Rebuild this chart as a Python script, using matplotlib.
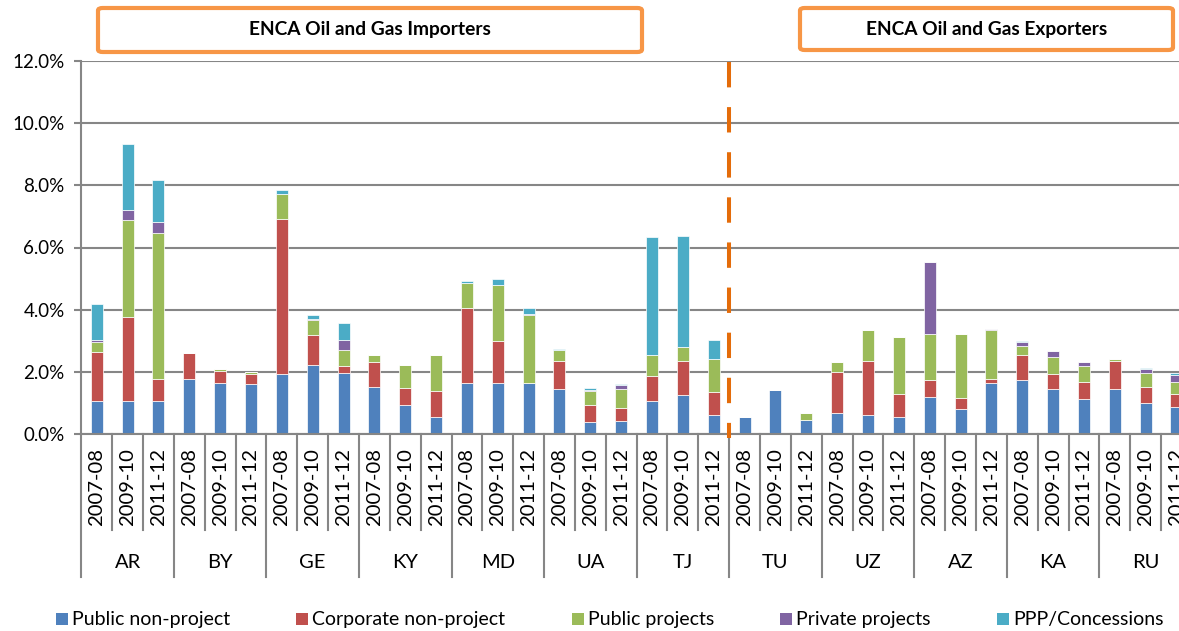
import numpy as np
import matplotlib.pyplot as plt
import matplotlib.transforms as mtransforms
from matplotlib.patches import FancyBboxPatch, Rectangle

plt.rcParams['font.family'] = ['Lato', 'DejaVu Sans']

countries = ['AR', 'BY', 'GE', 'KY', 'MD', 'UA', 'TJ', 'TU', 'UZ', 'AZ', 'KA', 'RU']
periods = ['2007-08', '2009-10', '2011-12']

# % of GDP (3 periods per country)
public_nonproject = [1.07, 1.07, 1.07, 1.77, 1.64, 1.61, 1.95, 2.22, 1.97, 1.52, 0.95, 0.56,
                     1.64, 1.64, 1.64, 1.46, 0.39, 0.42, 1.07, 1.25, 0.62, 0.55, 1.43, 0.46,
                     0.68, 0.61, 0.55, 1.19, 0.81, 1.65, 1.73, 1.47, 1.14, 1.46, 1.02, 0.87]
corporate_nonproject = [1.56, 2.71, 0.72, 0.85, 0.40, 0.33, 4.96, 0.98, 0.21, 0.80, 0.53, 0.84,
                        2.43, 1.37, 0.00, 0.89, 0.56, 0.44, 0.79, 1.11, 0.73, 0.00, 0.00, 0.00,
                        1.32, 1.76, 0.76, 0.56, 0.37, 0.14, 0.81, 0.46, 0.53, 0.89, 0.49, 0.41]
public_projects = [0.34, 3.09, 4.66, 0.00, 0.06, 0.07, 0.81, 0.48, 0.53, 0.23, 0.76, 1.14,
                   0.79, 1.77, 2.20, 0.35, 0.45, 0.61, 0.70, 0.46, 1.06, 0.00, 0.00, 0.22,
                   0.32, 0.98, 1.80, 1.47, 2.05, 1.55, 0.30, 0.55, 0.52, 0.06, 0.45, 0.39]
private_projects = [0.05, 0.32, 0.37, 0.00, 0.00, 0.00, 0.00, 0.02, 0.32, 0.00, 0.00, 0.00,
                    0.00, 0.00, 0.04, 0.00, 0.03, 0.11, 0.00, 0.00, 0.00, 0.00, 0.00, 0.00,
                    0.00, 0.00, 0.00, 2.33, 0.00, 0.05, 0.12, 0.19, 0.13, 0.00, 0.13, 0.23]
ppp_concessions = [1.17, 2.15, 1.36, 0.00, 0.00, 0.00, 0.14, 0.12, 0.55, 0.00, 0.00, 0.00,
                   0.08, 0.21, 0.17, 0.05, 0.05, 0.04, 3.77, 3.56, 0.63, 0.00, 0.00, 0.00,
                   0.00, 0.00, 0.00, 0.00, 0.00, 0.00, 0.05, 0.00, 0.00, 0.00, 0.03, 0.08]

series = [('Public non-project', public_nonproject, '#4F81BD'),
          ('Corporate non-project', corporate_nonproject, '#C0504D'),
          ('Public projects', public_projects, '#9BBB59'),
          ('Private projects', private_projects, '#8064A2'),
          ('PPP/Concessions', ppp_concessions, '#4BACC6')]

W, H = 1179, 631
fig = plt.figure(figsize=(W / 100, H / 100), dpi=100)

# plot area in pixels (the axis runs a bit past the right edge of the image)
x0, x1 = 81.3, 1191.9
y0, y1 = 434.3, 60.7
ax = fig.add_axes([x0 / W, (H - y0) / H, (x1 - x0) / W, (y0 - y1) / H])

x = np.arange(len(countries) * len(periods))
bottom = np.zeros(len(x))
for name, vals, col in series:
    vals = np.array(vals)
    ax.bar(x, vals, 0.39, bottom=bottom, color=col, edgecolor='white', linewidth=0.5, zorder=2)
    bottom += vals

grid_col = '#868686'
ax.set_xlim(-0.5, len(x) - 0.5)
ax.set_ylim(0, 12)
ax.set_yticks(np.arange(0, 13, 2))
ax.set_yticklabels([f'{v:.1f}%' for v in np.arange(0, 13, 2)], fontsize=13.5)
ax.yaxis.grid(True, color=grid_col, lw=1.5)
ax.set_axisbelow(True)
ax.tick_params(axis='y', length=5, width=1.5, color=grid_col, pad=7)
for s in ['top', 'right']:
    ax.spines[s].set_visible(False)
for s in ['left', 'bottom']:
    ax.spines[s].set_color(grid_col)
    ax.spines[s].set_linewidth(1.5)

# two-level category axis
ax.set_xticks(x)
ax.set_xticklabels(periods * len(countries), rotation=90, fontsize=14.6)
ax.tick_params(axis='x', length=0, pad=10)
trans = mtransforms.blended_transform_factory(ax.transData, ax.transAxes)
h_ax = y0 - y1
for i in range(len(x) + 1):
    depth = 143.0 if i % 3 == 0 else 96.0
    ax.plot([i - 0.5, i - 0.5], [0, -depth / h_ax], transform=trans,
            color=grid_col, lw=1.5, clip_on=False)
for k, c in enumerate(countries):
    ax.text(3 * k + 1, -(563 - y0) / h_ax, c, transform=trans, ha='center', va='center',
            fontsize=14.5)

# dashed split between importers and exporters
ax.plot([20.5, 20.5], [(y0 - 61.7) / h_ax, -(438 - y0) / h_ax], transform=trans,
        color='#E46C0A', lw=2.9, linestyle=(0, (6.3, 4.9)), dash_capstyle='butt',
        clip_on=False, zorder=5)

# header boxes
def fig_box(left, top, right, bot, text):
    fig.patches.append(FancyBboxPatch((left / W, (H - bot) / H), (right - left) / W, (bot - top) / H,
                                      boxstyle='round,pad=0,rounding_size=0.004',
                                      transform=fig.transFigure, fc='white', ec='#F79646', lw=3))
    fig.text((left + right) / 2 / W, 1 - (top + bot) / 2 / H, text, ha='center', va='center',
             fontsize=13.8, fontweight='bold')

fig_box(98, 8, 642, 52, 'ENCA Oil and Gas Importers')
fig_box(800, 8, 1173, 50, 'ENCA Oil and Gas Exporters')

# legend along the bottom
sq_left = [55.5, 296, 572, 780, 996.5]
for (name, vals, col), sx in zip(series, sq_left):
    fig.patches.append(Rectangle((sx / W, (H - 625) / H), 12 / W, 12 / H,
                                 transform=fig.transFigure, fc=col, ec='none'))
    fig.text((sx + 16.5) / W, (H - 619) / H, name, ha='left', va='center', fontsize=14)

fig.savefig('out.png', dpi=100)
